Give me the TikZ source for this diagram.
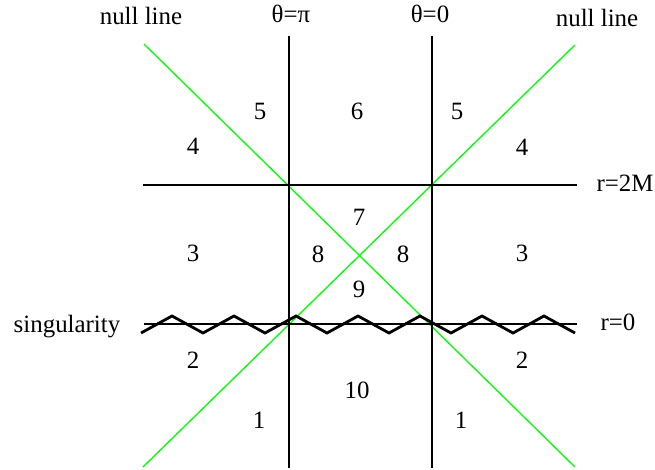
\documentclass[tikz,border=0pt]{standalone}
\usepackage{fontspec}
\setmainfont{Liberation Serif}
\usetikzlibrary{positioning}

\begin{document}
\begin{tikzpicture}[x=1bp, y=-1bp,
  every node/.style={font=\fontsize{25}{29}\selectfont, inner sep=0pt, anchor=base},
  axis/.style={black, line width=1.3bp},
  null/.style={green, line width=1.3bp},
  zigzag/.style={black, line width=2.8bp, miter limit=10},
  region/.style={anchor=base},
]
\useasboundingbox (0,0) rectangle (655,470);

% ── end points of the lines ──
\coordinate (pitop)  at (289,36);  \coordinate (pibot)  at (289,468);
\coordinate (zerotop) at (432,36); \coordinate (zerobot) at (432,468);
\coordinate (hw) at (143,185);     \coordinate (he) at (577,185);
\coordinate (sw) at (144,324);     \coordinate (se) at (577,324);
\coordinate (nlnw) at (144,44);    \coordinate (nlse) at (575,467);
\coordinate (nlne) at (575,45);    \coordinate (nlsw) at (143,467);

% ── null lines ──
\draw[null] (nlnw) -- (nlse);
\draw[null] (nlne) -- (nlsw);

% ── theta = const and r = const ──
\draw[axis] (pitop) -- (pibot);
\draw[axis] (zerotop) -- (zerobot);
\draw[axis] (hw) -- (he);
\draw[axis] (sw) -- (se);

% ── singularity ──
\draw[zigzag] (141,333) \foreach \i in {1,...,14}{ -- ({141+31*\i},{333-17*mod(\i,2)}) };

% ── labels ──
\node (nulll) at (141,25) {null line};
\node (nullr) at (597,27) {null line};
\node (thpi)  at (291,23) {θ=π};
\node (thzero) at (430,23) {θ=0};
\node (rtwom) at (625,192) {r=2M};
\node (rzero) at (618,330) {r=0};
\node (sing)  at (67,332) {singularity};

% ── regions ──
\node[region] (a5)  at (260,120) {5};
\node[region] (a6)  at (357,120) {6};
\node[region] (b5)  at (457,120) {5};
\node[region] (a4)  at (193,155) {4};
\node[region] (b4)  at (522,156) {4};
\node[region] (a7)  at (359,226) {7};
\node[region] (a3)  at (193,262) {3};
\node[region] (a8)  at (318,263) {8};
\node[region] (b8)  at (403,263) {8};
\node[region] (b3)  at (522,262) {3};
\node[region] (a9)  at (359,298) {9};
\node[region] (a2)  at (193,368) {2};
\node[region] (b2)  at (522,368) {2};
\node[region] (a10) at (357,398) {10};
\node[region] (a1)  at (259,428) {1};
\node[region] (b1)  at (461,428) {1};
\end{tikzpicture}
\end{document}
